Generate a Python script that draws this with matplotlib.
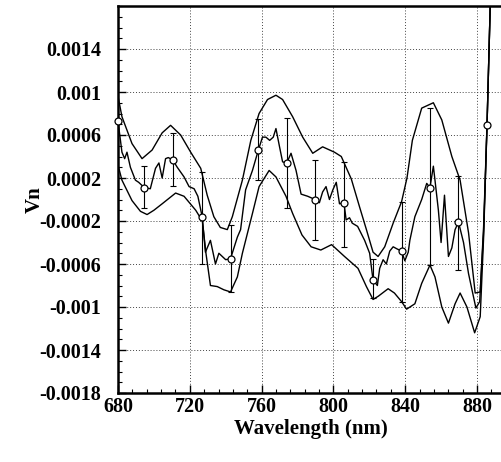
import matplotlib
matplotlib.use("Agg")
import matplotlib.pyplot as plt
from matplotlib.ticker import MultipleLocator, FixedLocator

# ---- data ----
upper_x = [680, 682.2, 687.8, 693.4, 699, 704.6, 709.3, 714.9, 720.5, 726.1, 729.7, 733.4, 737, 740.9,
           743.7, 746.5, 749.3, 754, 758.6, 763.3, 768, 771.7, 777.3, 782.9, 788.5, 794, 800.6, 804.4,
           810, 814.6, 818.4, 822.1, 824.9, 828.6, 833.3, 838, 841, 844, 849.2, 855.7, 860.4, 866,
           870.6, 875.3, 879, 881.8, 883.7, 885.6, 888.5]
upper_y = [0.00096, 0.00077, 0.00052, 0.00038, 0.00046, 0.00062, 0.00069, 0.0006, 0.00044, 0.00029,
           0.00004, -0.00016, -0.00026, -0.00028, -0.00016, 0.00001, 0.00018, 0.00055, 0.0008, 0.00093,
           0.00097, 0.00093, 0.00077, 0.00058, 0.00043, 0.00049, 0.00044, 0.0004, 0.00019, -0.00007,
           -0.00028, -0.00049, -0.00053, -0.00044, -0.00022, -0.00002, 0.0002, 0.00055, 0.00085, 0.0009,
           0.00074, 0.0004, 0.00018, -0.00031, -0.00087, -0.00086, -0.00025, 0.0007, 0.0025]

lower_x = [680, 682.2, 687.8, 692.5, 696.2, 700, 704.6, 712.1, 716.8, 723.3, 727, 729, 731.5, 735.3,
           739, 742.7, 746.5, 749.3, 754.9, 758.6, 764.2, 768, 773.6, 777.3, 782.5, 787.6, 793, 799,
           806.2, 813.7, 818.4, 822.1, 825, 830.5, 834, 838, 840.8, 845.4, 849.2, 853.8, 856.6, 860.4,
           864.1, 867.8, 870.6, 874.4, 878.7, 881.8, 883.7, 885.6, 888.5]
lower_y = [0.00032, 0.00018, -0.00001, -0.00011, -0.00014, -0.0001, -0.00004, 0.00006, 0.00003, -0.0001,
           -0.0002, -0.0005, -0.0008, -0.00081, -0.00084, -0.00086, -0.00072, -0.0005, -0.00013, 0.00012,
           0.00027, 0.00021, 0.00003, -0.00013, -0.00033, -0.00044, -0.00047, -0.00042, -0.00053, -0.00064,
           -0.00081, -0.00093, -0.0009, -0.00083, -0.00087, -0.00095, -0.00102, -0.00097, -0.00078, -0.00061,
           -0.00072, -0.001, -0.00115, -0.00097, -0.00087, -0.001, -0.00124, -0.00109, -0.00035, 0.00069, 0.0025]

mid_x = [680, 682.2, 683.7, 685, 686.9, 689.7, 691.5, 694.7, 698, 700.9, 702.8, 704.6, 706.5, 708, 710.4,
         713, 716.8, 719.6, 722.4, 724.5, 726.9, 728.7, 731.5, 734.3, 736.2, 740, 742.7, 746.5, 748.3,
         751.1, 754.9, 758.2, 760.5, 762.4, 764.5, 766.5, 768, 770, 771.7, 774, 776.4, 779.2, 782, 785.7,
         789.8, 792.2, 794, 795.9, 797.8, 799.7, 801.6, 803.4, 805.9, 807.1, 809, 810.5, 813.5, 817.4,
         820.2, 822.1, 824.5, 825.8, 827.7, 829.5, 831.4, 833.3, 835.5, 838, 839.8, 841.7, 842.6, 845.4,
         849.2, 852, 853.8, 855.7, 856.6, 858.5, 860, 861.9, 864.1, 866, 867.8, 869.7, 872.5, 875.3,
         879.4, 881.5, 883.7, 885.6, 888.5]
mid_y = [0.00073, 0.00044, 0.00038, 0.00044, 0.0003, 0.00018, 0.00016, 0.00011, 0.0001, 0.00029, 0.00034,
         0.0002, 0.00038, 0.00039, 0.00037, 0.0003, 0.00021, 0.00012, 0.0001, 0.00003, -0.00016, -0.00049,
         -0.00038, -0.0006, -0.0005, -0.00056, -0.00055, -0.00035, -0.00028, 0.00009, 0.00027, 0.00046,
         0.00058, 0.00058, 0.00055, 0.00058, 0.00066, 0.00049, 0.00035, 0.00034, 0.00043, 0.00027, 0.00005,
         0.00003, 0.0, -0.00003, 0.00007, 0.00012, 0.0, 0.00009, 0.00016, -0.00004, -0.00003, -0.00019,
         -0.00017, -0.00022, -0.00025, -0.00038, -0.0005, -0.00075, -0.0008, -0.00064, -0.00056, -0.0006,
         -0.00048, -0.00044, -0.00046, -0.00048, -0.00057, -0.00049, -0.00038, -0.00016, 0.0, 0.00015,
         0.00011, 0.00031, 0.00018, -0.0001, -0.0004, 0.00004, -0.00053, -0.00045, -0.00028, -0.00021,
         -0.0004, -0.00069, -0.00101, -0.00095, -0.0003, 0.00069, 0.0025]

marker_x = [680, 694.7, 710.4, 726.9, 742.7, 758.2, 774, 789.8, 805.9, 822.1, 838, 853.8, 869.7, 885.6]
marker_y = [0.00073, 0.00011, 0.00037, -0.00016, -0.00055, 0.00046, 0.00034, 0.0, -0.00003, -0.00075,
            -0.00048, 0.00011, -0.00021, 0.00069]
err_top = [None, 0.00031, 0.00062, 0.00026, -0.00024, 0.00075, 0.00076, 0.00037, 0.00035, -0.00055,
           -0.00002, 0.00085, 0.00022, None]
err_bot = [None, -0.00008, 0.00013, -0.0006, -0.00086, 0.00018, -0.00008, -0.00038, -0.00044, -0.00092,
           -0.00095, -0.00061, -0.00066, None]

xticks = [680, 720, 760, 800, 840, 880]
yticks = [-0.0018, -0.0014, -0.001, -0.0006, -0.0002, 0.0002, 0.0006, 0.001, 0.0014]
yticklabels = ["-0.0018", "-0.0014", "-0.001", "-0.0006", "-0.0002", "0.0002", "0.0006", "0.001", "0.0014"]

# ---- figure ----
serif = ["Liberation Serif", "DejaVu Serif"]
fig = plt.figure(figsize=(5.01, 4.62), dpi=100)
ax = fig.add_axes([118 / 501, 69 / 462, 1.0 - 118 / 501 + 0.004, 387 / 462])

ax.plot(upper_x, upper_y, color="black", lw=1.0)
ax.plot(lower_x, lower_y, color="black", lw=1.0)
ax.plot(mid_x, mid_y, color="black", lw=1.0)

ex, ey, elo, ehi = [], [], [], []
for x, y, t, b in zip(marker_x, marker_y, err_top, err_bot):
    if t is None:
        continue
    ex.append(x); ey.append(y); ehi.append(t - y); elo.append(y - b)
ax.errorbar(ex, ey, yerr=[elo, ehi], fmt="none", ecolor="black", elinewidth=0.8, capsize=2.5, capthick=0.8)
ax.plot(marker_x, marker_y, "o", ms=5, mfc="white", mec="black", mew=0.9, zorder=5, clip_on=False)

ax.set_xlim(680, 894.5)
ax.set_ylim(-0.0018, 0.0018)
ax.xaxis.set_major_locator(FixedLocator(xticks))
ax.xaxis.set_minor_locator(MultipleLocator(8))
ax.yaxis.set_major_locator(FixedLocator(yticks))
ax.yaxis.set_minor_locator(MultipleLocator(0.0001))
ax.set_yticklabels(yticklabels)
ax.set_xticklabels([str(t) for t in xticks])

ax.grid(True, which="major", color="#444444", linestyle=(0, (1, 2)), linewidth=0.7)
ax.set_axisbelow(True)

ax.tick_params(which="major", direction="in", length=6, width=1.0, top=False, right=False)
ax.tick_params(which="minor", direction="in", length=3, width=0.8, top=False, right=False)
ax.tick_params(axis="y", which="major", pad=12)
ax.tick_params(axis="x", which="major", pad=3)
for lab in ax.get_xticklabels() + ax.get_yticklabels():
    lab.set_fontfamily(serif)
    lab.set_fontweight("bold")
    lab.set_fontsize(14.5)

for s in ["left", "bottom", "top"]:
    ax.spines[s].set_linewidth(1.8)
ax.spines["right"].set_visible(False)

ax.set_xlabel("Wavelength (nm)", fontfamily=serif, fontweight="bold", fontsize=15, labelpad=1)
ax.set_ylabel("Vn", fontfamily=serif, fontweight="bold", fontsize=15, labelpad=-4)

fig.savefig("out.png", dpi=100)
